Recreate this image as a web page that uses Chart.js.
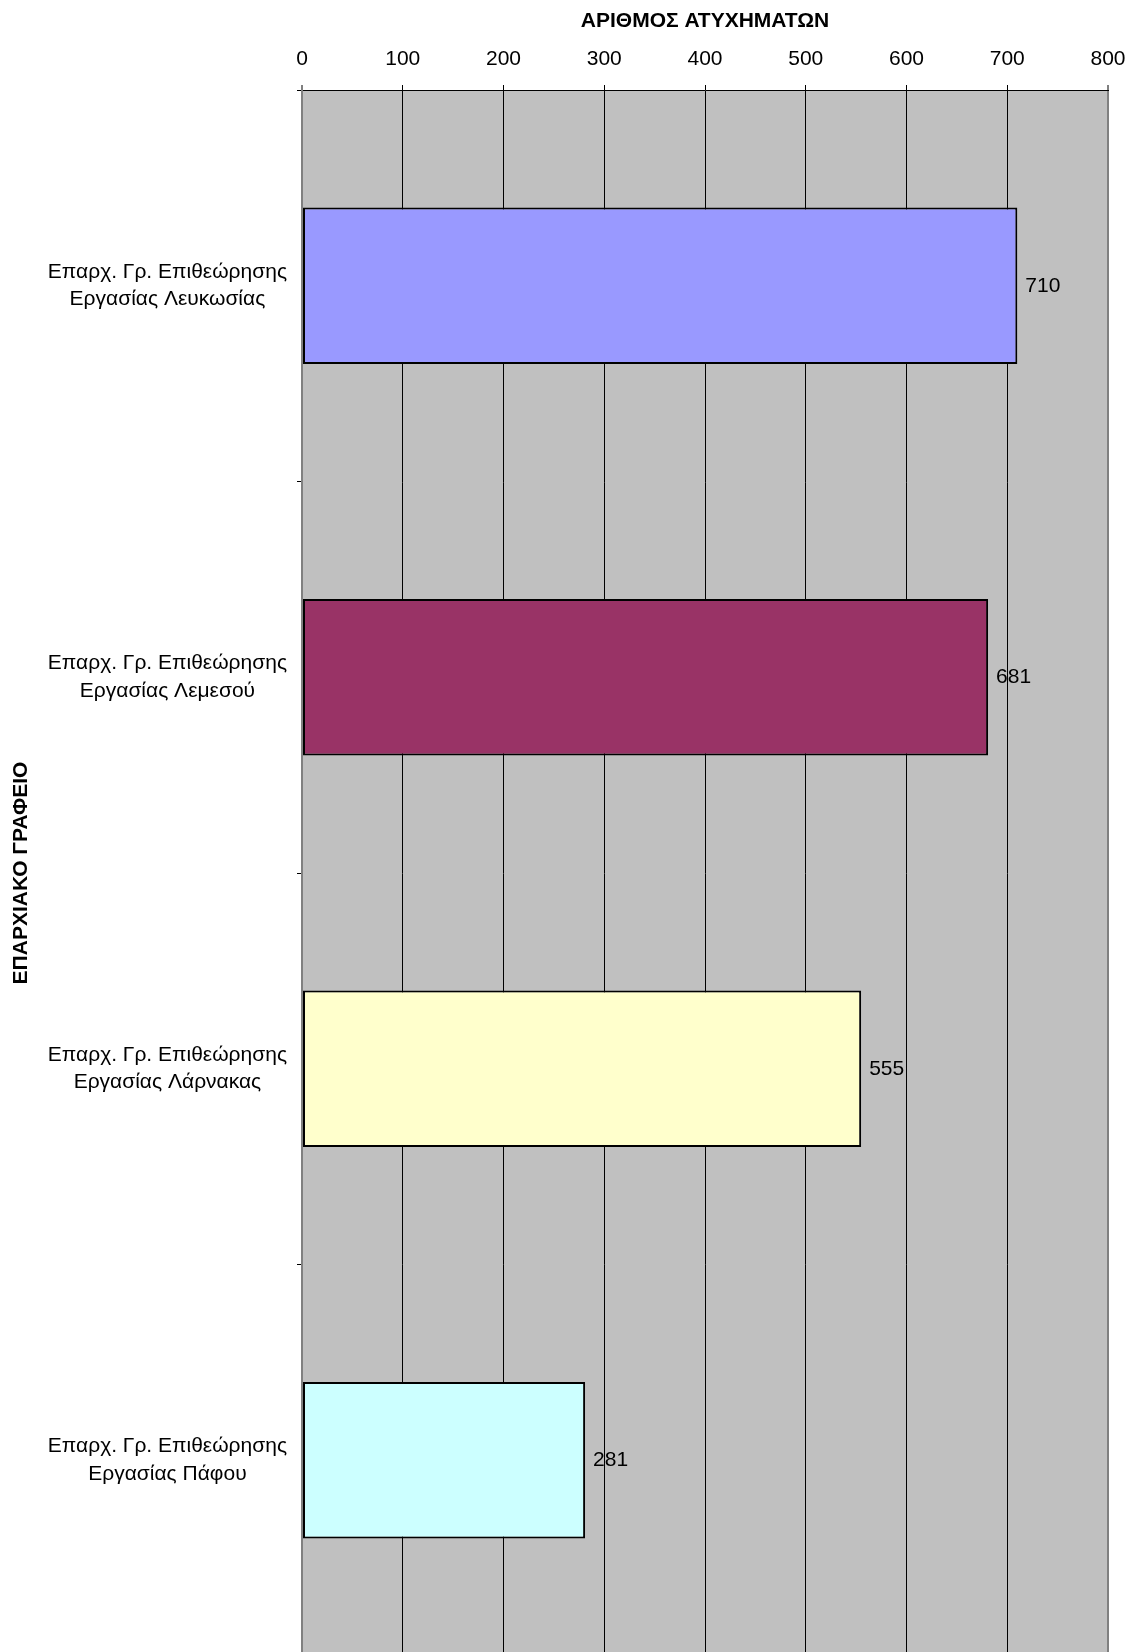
<!DOCTYPE html>
<html>
<head>
<meta charset="utf-8">
<script src="https://cdn.jsdelivr.net/npm/chart.js@4/dist/chart.umd.min.js"></script>
<style>
  html, body { margin: 0; padding: 0; background: #fff; overflow: hidden; }
  canvas { display: block; }
</style>
</head>
<body>
<canvas id="grafico" width="1131" height="1660"></canvas>
<script>
// Datos del gráfico
const categorias = [
  ['Επαρχ. Γρ. Επιθεώρησης', 'Εργασίας Λευκωσίας'],
  ['Επαρχ. Γρ. Επιθεώρησης', 'Εργασίας Λεμεσού'],
  ['Επαρχ. Γρ. Επιθεώρησης', 'Εργασίας Λάρνακας'],
  ['Επαρχ. Γρ. Επιθεώρησης', 'Εργασίας Πάφου'],
];
const valores = [710, 681, 555, 281];
const coloresBarras = ['#9999FF', '#993366', '#FFFFCC', '#CCFFFF'];
const tituloX = 'ΑΡΙΘΜΟΣ ΑΤΥΧΗΜΑΤΩΝ';
const tituloY = 'ΕΠΑΡΧΙΑΚΟ ΓΡΑΦΕΙΟ';

const FUENTE = "'Liberation Sans', Arial, sans-serif";

// Fondo gris del área de trazado
const fondoArea = {
  id: 'fondoArea',
  beforeDraw(chart) {
    const { ctx, chartArea: a } = chart;
    ctx.save();
    ctx.fillStyle = '#C0C0C0';
    ctx.fillRect(a.left, a.top, a.right - a.left, a.bottom - a.top);
    ctx.restore();
  },
};

// Etiquetas de valor a la derecha de cada barra
const etiquetasValor = {
  id: 'etiquetasValor',
  afterDatasetsDraw(chart) {
    const { ctx } = chart;
    const meta = chart.getDatasetMeta(0);
    ctx.save();
    ctx.font = `21px ${FUENTE}`;
    ctx.fillStyle = '#000';
    ctx.textAlign = 'left';
    ctx.textBaseline = 'middle';
    meta.data.forEach((bar, i) => {
      ctx.fillText(String(valores[i]), bar.x + 8, bar.y);
    });
    ctx.restore();
  },
};

const esBorde = (c) => c.tick && (c.tick.value === 0 || c.tick.value === 800);

new Chart(document.getElementById('grafico'), {
  type: 'bar',
  data: {
    labels: categorias,
    datasets: [{
      data: valores,
      backgroundColor: coloresBarras,
      borderColor: '#000',
      borderWidth: 2,
      borderSkipped: false,
      barPercentage: 0.4,
      categoryPercentage: 1,
    }],
  },
  options: {
    indexAxis: 'y',
    responsive: false,
    animation: false,
    devicePixelRatio: 1,
    layout: { padding: { left: 0, right: 23, top: 0, bottom: 4 } },
    plugins: {
      legend: { display: false },
      tooltip: { enabled: false },
    },
    scales: {
      x: {
        position: 'top',
        min: 0,
        max: 800,
        afterFit: (s) => {
          s.height = 90;
          s.paddingLeft = 0;
          s.paddingRight = 0;
        },
        ticks: {
          stepSize: 100,
          color: '#000',
          padding: 13,
          font: { family: FUENTE, size: 21 },
        },
        grid: {
          color: (c) => esBorde(c) ? '#808080' : '#000',
          lineWidth: (c) => esBorde(c) ? 2 : 1,
          tickLength: 5,
          tickColor: '#000',
          tickWidth: 1,
        },
        border: { display: true, color: '#000', width: 1 },
        title: {
          display: true,
          text: tituloX,
          color: '#000',
          padding: { top: 9, bottom: 0 },
          font: { family: FUENTE, size: 21, weight: 'bold' },
        },
      },
      y: {
        afterFit: (s) => {
          s.width = 302;
          s.paddingTop = 0;
          s.paddingBottom = 0;
        },
        ticks: {
          color: '#000',
          crossAlign: 'center',
          padding: 10,
          font: { family: FUENTE, size: 21, lineHeight: 1.3 },
        },
        grid: {
          drawOnChartArea: false,
          drawTicks: true,
          tickLength: 5,
          color: '#000',
        },
        border: { display: true, color: '#808080', width: 2 },
        title: {
          display: true,
          text: tituloY,
          color: '#000',
          padding: { top: 9, bottom: 0 },
          font: { family: FUENTE, size: 21, weight: 'bold' },
        },
      },
    },
  },
  plugins: [fondoArea, etiquetasValor],
});
</script>
</body>
</html>
